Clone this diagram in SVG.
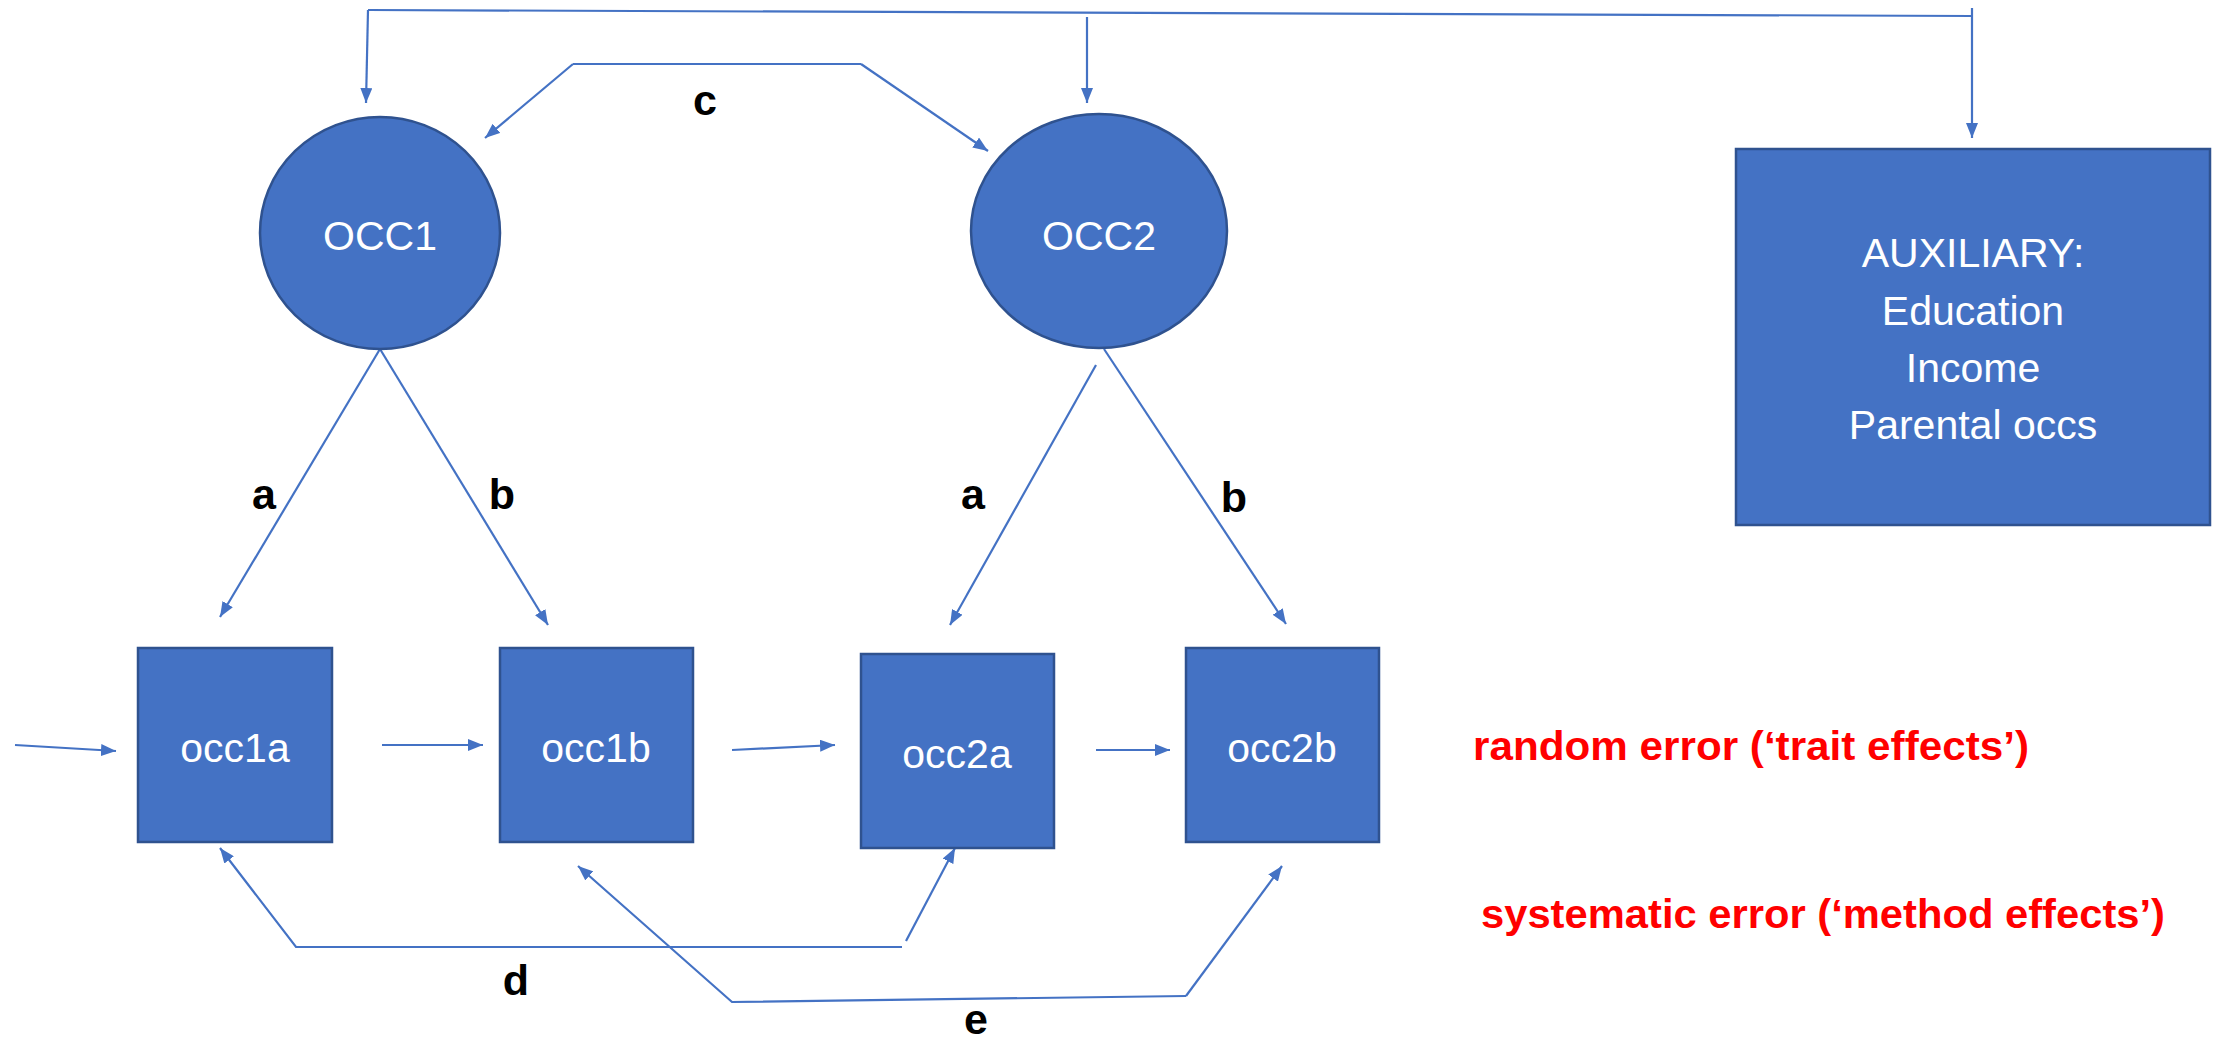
<svg xmlns="http://www.w3.org/2000/svg" width="2219" height="1044" viewBox="0 0 2219 1044">
  <style>
    .node { fill: #4472C4; stroke: #2F528F; stroke-width: 2.5; }
    .ntext { fill: #FFFFFF; font-family: "Liberation Sans", Arial, sans-serif; font-size: 41px; text-anchor: middle; }
    .conn { fill: none; stroke: #4472C4; stroke-width: 2.2; }
    .lbl { fill: #000000; font-family: "Liberation Sans", Arial, sans-serif; font-size: 43px; font-weight: bold; text-anchor: middle; }
    .red { fill: #FF0000; font-family: "Liberation Sans", Arial, sans-serif; font-size: 41px; font-weight: bold; }
  </style>
  <defs>
    <marker id="arr" markerUnits="userSpaceOnUse" markerWidth="16" markerHeight="12" refX="15" refY="6" orient="auto">
      <path d="M0,0 L15,6 L0,12 z" fill="#4472C4"/>
    </marker>
  </defs>
  <rect width="2219" height="1044" fill="#FFFFFF"/>

  <g id="connectors">
    <!-- top bracket -->
    <path class="conn" d="M368,10 L1972,16"/>
    <path class="conn" d="M368,10 L366,103" marker-end="url(#arr)"/>
    <path class="conn" d="M1087,17 L1087,103" marker-end="url(#arr)"/>
    <path class="conn" d="M1972,8 L1972,138" marker-end="url(#arr)"/>
    <!-- c -->
    <path class="conn" d="M573,64 L861,64"/>
    <path class="conn" d="M573,64 L485,138" marker-end="url(#arr)"/>
    <path class="conn" d="M861,64 L988,151" marker-end="url(#arr)"/>
    <!-- a/b from OCC1 -->
    <path class="conn" d="M380,349 L220,617" marker-end="url(#arr)"/>
    <path class="conn" d="M380,349 L548,625" marker-end="url(#arr)"/>
    <!-- a/b from OCC2 -->
    <path class="conn" d="M1096,365 L950,625" marker-end="url(#arr)"/>
    <path class="conn" d="M1104,349 L1286,624" marker-end="url(#arr)"/>
    <!-- horizontal row arrows -->
    <path class="conn" d="M15,745 L116,751" marker-end="url(#arr)"/>
    <path class="conn" d="M382,745 L483,745" marker-end="url(#arr)"/>
    <path class="conn" d="M732,750 L835,745" marker-end="url(#arr)"/>
    <path class="conn" d="M1096,750 L1170,750" marker-end="url(#arr)"/>
    <!-- d -->
    <path class="conn" d="M902,947 L296,947 L220,848" marker-end="url(#arr)"/>
    <path class="conn" d="M906,941 L955,848" marker-end="url(#arr)"/>
    <!-- e -->
    <path class="conn" d="M1186,996 L732,1002 L578,866" marker-end="url(#arr)"/>
    <path class="conn" d="M1186,996 L1282,866" marker-end="url(#arr)"/>
  </g>

  <g id="OCC1">
    <ellipse class="node" cx="380" cy="233" rx="120" ry="116"/>
    <text class="ntext" x="380" y="250">OCC1</text>
  </g>
  <g id="OCC2">
    <ellipse class="node" cx="1099" cy="231" rx="128" ry="117"/>
    <text class="ntext" x="1099" y="250">OCC2</text>
  </g>
  <g id="AUX">
    <rect class="node" x="1736" y="149" width="474" height="376"/>
    <text class="ntext" x="1973" y="267">AUXILIARY:</text>
    <text class="ntext" x="1973" y="325">Education</text>
    <text class="ntext" x="1973" y="382">Income</text>
    <text class="ntext" x="1973" y="439">Parental occs</text>
  </g>
  <g id="occ1a">
    <rect class="node" x="138" y="648" width="194" height="194"/>
    <text class="ntext" x="235" y="762">occ1a</text>
  </g>
  <g id="occ1b">
    <rect class="node" x="500" y="648" width="193" height="194"/>
    <text class="ntext" x="596" y="762">occ1b</text>
  </g>
  <g id="occ2a">
    <rect class="node" x="861" y="654" width="193" height="194"/>
    <text class="ntext" x="957" y="768">occ2a</text>
  </g>
  <g id="occ2b">
    <rect class="node" x="1186" y="648" width="193" height="194"/>
    <text class="ntext" x="1282" y="762">occ2b</text>
  </g>

  <g id="labels">
    <text class="lbl" x="705" y="115">c</text>
    <text class="lbl" x="264" y="509">a</text>
    <text class="lbl" x="502" y="509">b</text>
    <text class="lbl" x="973" y="509">a</text>
    <text class="lbl" x="1234" y="512">b</text>
    <text class="lbl" x="516" y="995">d</text>
    <text class="lbl" x="976" y="1034">e</text>
  </g>
  <g id="notes">
    <text class="red" x="1473" y="760" textLength="556" lengthAdjust="spacingAndGlyphs">random error (‘trait effects’)</text>
    <text class="red" x="1481" y="928" textLength="684" lengthAdjust="spacingAndGlyphs">systematic error (‘method effects’)</text>
  </g>
</svg>
